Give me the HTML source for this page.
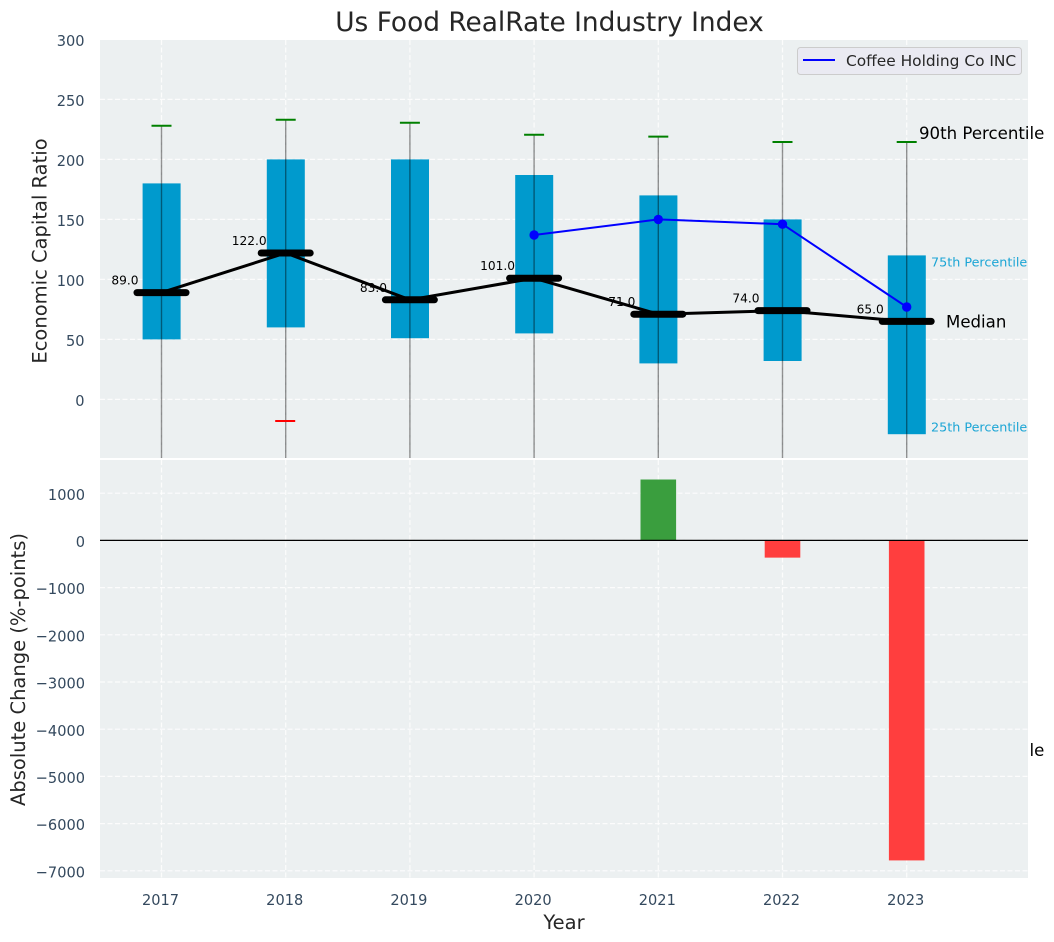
<!DOCTYPE html>
<html lang="en">
<head>
<meta charset="utf-8">
<title>Us Food RealRate Industry Index</title>
<style>
html,body{margin:0;padding:0;background:#fff;}
svg{display:block;font-family:"DejaVu Sans","Liberation Sans",sans-serif;}
</style>
</head>
<body>
<svg id="chart" xmlns="http://www.w3.org/2000/svg" width="1054" height="942" viewBox="0 0 1054 942">
  <defs>
    <clipPath id="top-clip"><rect x="100" y="40" width="928" height="418"/></clipPath>
    <clipPath id="bottom-clip"><rect x="100" y="460" width="928" height="418"/></clipPath>
  </defs>
  <rect x="0" y="0" width="1054" height="942" fill="#ffffff"/>
  <text x="549.5" y="31" font-size="26.4" fill="#262626" text-anchor="middle">Us Food RealRate Industry Index</text>
  <text transform="translate(46.5,251) rotate(-90)" font-size="19.5" fill="#262626" text-anchor="middle">Economic Capital Ratio</text>
  <text transform="translate(25,669.5) rotate(-90)" font-size="19.5" fill="#262626" text-anchor="middle">Absolute Change (%-points)</text>
  <text x="564" y="929" font-size="19.5" fill="#262626" text-anchor="middle">Year</text>
  <g id="overflow-notes"></g>
  <rect x="100" y="40" width="928" height="418" fill="#ecf0f1"/>
  <rect x="100" y="460" width="928" height="418" fill="#ecf0f1"/>
  <g id="grid"></g>
  <g id="top-ticks"></g>
  <g id="bottom-ticks"></g>
  <g id="x-ticks"></g>
  <g id="top-marks" clip-path="url(#top-clip)"></g>
  <g id="bottom-marks" clip-path="url(#bottom-clip)"></g>
  <g id="labels"></g>
  <g>
    <rect x="797.5" y="47.5" width="224" height="27" rx="3" fill="#eaeaf2" stroke="#cccccc" stroke-width="1"/>
    <line x1="803" y1="60" x2="835" y2="60" stroke="#0000ff" stroke-width="2"/>
    <text x="846" y="66" font-size="15.4" fill="#262626">Coffee Holding Co INC</text>
  </g>
</svg>
<script>
const years = [2017, 2018, 2019, 2020, 2021, 2022, 2023];
const p90 = [228, 233, 230.5, 220.5, 219, 214.5, 214.5];
const p75 = [180, 200, 200, 187, 170, 150, 120];
const medians = [89, 122, 83, 101, 71, 74, 65];
const medianLabels = ["89.0", "122.0", "83.0", "101.0", "71.0", "74.0", "65.0"];
const p25 = [50, 60, 51, 55, 30, 32, -29];
const p10 = [-60, -18, -70, -80, -120, -130, -300];
const whiskerLow = [-60, -60, -70, -80, -120, -130, -300];
const companyValues = [null, null, null, 137, 150, 146, 77];
const changeValues = [null, null, null, null, 1290, -365, -6780];
const topTicks = [0, 50, 100, 150, 200, 250, 300];
const bottomTicks = [1000, 0, -1000, -2000, -3000, -4000, -5000, -6000, -7000];

const NS = "http://www.w3.org/2000/svg";
const xPos = year => 161.5 + (year - 2017) * 124.2;
const yTop = v => 399.4 - 1.2 * v;
const yBottom = v => 540.4 - 0.0472 * v;

function mk(parent, tag, attrs, text) {
  const el = document.createElementNS(NS, tag);
  for (const k in attrs) el.setAttribute(k, attrs[k]);
  if (text !== undefined) el.textContent = text;
  document.getElementById(parent).appendChild(el);
  return el;
}
const gridStyle = {stroke: "#ffffff", "stroke-width": 1.2, "stroke-dasharray": "5 2.5", opacity: 0.85};
const tickColor = "#34495e";
const tickTransform = (x, y) => "translate(" + x + "," + y + ") scale(0.94,1)";

years.forEach(year => {
  const g1 = mk("grid", "line", {x1: xPos(year), x2: xPos(year), y1: 40, y2: 458, ...gridStyle});
  
  
  const g2 = mk("grid", "line", {x1: xPos(year), x2: xPos(year), y1: 460, y2: 878, ...gridStyle});
  
  
  const t = mk("x-ticks", "text", {transform: tickTransform(xPos(year) - 1, 905), "font-size": 15.5, fill: tickColor, "text-anchor": "middle"}, String(year));
  
  
});

topTicks.forEach(v => {
  const g = mk("grid", "line", {x1: 100, x2: 1028, y1: yTop(v), y2: yTop(v), ...gridStyle});
  
  
  const t = mk("top-ticks", "text", {transform: tickTransform(84.5, yTop(v) + 6.6), "font-size": 15.5, fill: tickColor, "text-anchor": "end"}, String(v));
  
  
});

bottomTicks.forEach(v => {
  const g = mk("grid", "line", {x1: 100, x2: 1028, y1: yBottom(v), y2: yBottom(v), ...gridStyle});
  
  
  const label = v < 0 ? "\u2212" + Math.abs(v) : String(v);
  const t = mk("bottom-ticks", "text", {transform: tickTransform(85, yBottom(v) + 6.6), "font-size": 15.5, fill: tickColor, "text-anchor": "end"}, label);
  
  
});

years.forEach((year, i) => {
  const x = xPos(year);
  const box = mk("top-marks", "rect", {x: x - 19 + 0.1, y: yTop(p75[i]), width: 38, height: yTop(p25[i]) - yTop(p75[i]), fill: "#009acd"});
  
  
});

years.forEach((year, i) => {
  const x = xPos(year);
  const w = mk("top-marks", "line", {x1: x, x2: x, y1: yTop(p90[i]), y2: yTop(whiskerLow[i]), stroke: "#000000", "stroke-opacity": 0.42, "stroke-width": 1.4});
  
  
  const c1 = mk("top-marks", "line", {x1: x - 10, x2: x + 10, y1: yTop(p90[i]), y2: yTop(p90[i]), stroke: "#008000", "stroke-width": 2});
  
  
  const c2 = mk("top-marks", "line", {x1: x - 10.5, x2: x + 9.5, y1: yTop(p10[i]), y2: yTop(p10[i]), stroke: "#ff0000", "stroke-width": 2});
  
  
});

const medianPath = mk("top-marks", "polyline", {
  points: years.map((year, i) => xPos(year) + "," + yTop(medians[i])).join(" "),
  fill: "none", stroke: "#000000", "stroke-width": 3
});



years.forEach((year, i) => {
  const x = xPos(year);
  const m = mk("top-marks", "line", {x1: x - 24.5, x2: x + 24.5, y1: yTop(medians[i]), y2: yTop(medians[i]), stroke: "#000000", "stroke-width": 7, "stroke-linecap": "round"});
  
  
});

const companyPoints = years.map((year, i) => companyValues[i] === null ? null : [xPos(year), yTop(companyValues[i])]).filter(Boolean);
const companyLine = mk("top-marks", "polyline", {
  points: companyPoints.map(p => p.join(",")).join(" "),
  fill: "none", stroke: "#0000ff", "stroke-width": 2
});


companyPoints.forEach(p => {
  const d = mk("top-marks", "circle", {cx: p[0], cy: p[1], r: 4.7, fill: "#0000ff"});
  
  
});

years.forEach((year, i) => {
  const v = changeValues[i];
  if (v === null) return;
  const y0 = yBottom(0), y1 = yBottom(v);
  const b = mk("bottom-marks", "rect", {x: xPos(year) - 17.8, y: Math.min(y0, y1), width: 35.6, height: Math.abs(y1 - y0), fill: v >= 0 ? "#3a9e3e" : "#ff3e3e"});
  
  
});
const zeroLine = mk("bottom-marks", "line", {x1: 100, x2: 1028, y1: yBottom(0), y2: yBottom(0), stroke: "#000000", "stroke-width": 1.3});



years.forEach((year, i) => {
  const t = mk("labels", "text", {x: xPos(year) - 36.5, y: yTop(medians[i]) - 8, "font-size": 12.2, fill: "#000000", "text-anchor": "middle"}, medianLabels[i]);
  
  
});

const last = years.length - 1;
const lastX = xPos(years[last]);
const a90 = mk("labels", "text", {x: lastX + 12.3, y: yTop(p90[last]) - 3.2, "font-size": 16.6, fill: "#000000"}, "90th Percentile");


const a75 = mk("labels", "text", {x: lastX + 24.3, y: yTop(p75[last]) + 11.3, "font-size": 12.75, fill: "#1ba5d5"}, "75th Percentile");


const a25 = mk("labels", "text", {x: lastX + 24.3, y: yTop(p25[last]) - 2.7, "font-size": 12.75, fill: "#1ba5d5"}, "25th Percentile");


const aMed = mk("labels", "text", {x: lastX + 39.3, y: yTop(medians[last]) + 6, "font-size": 16.6, fill: "#000000"}, "Median");


const a10 = mk("overflow-notes", "text", {x: lastX + 12.3, y: yTop(p10[last]) - 3.2, "font-size": 16.6, fill: "#000000"}, "10th Percentile");


</script>
</body>
</html>
